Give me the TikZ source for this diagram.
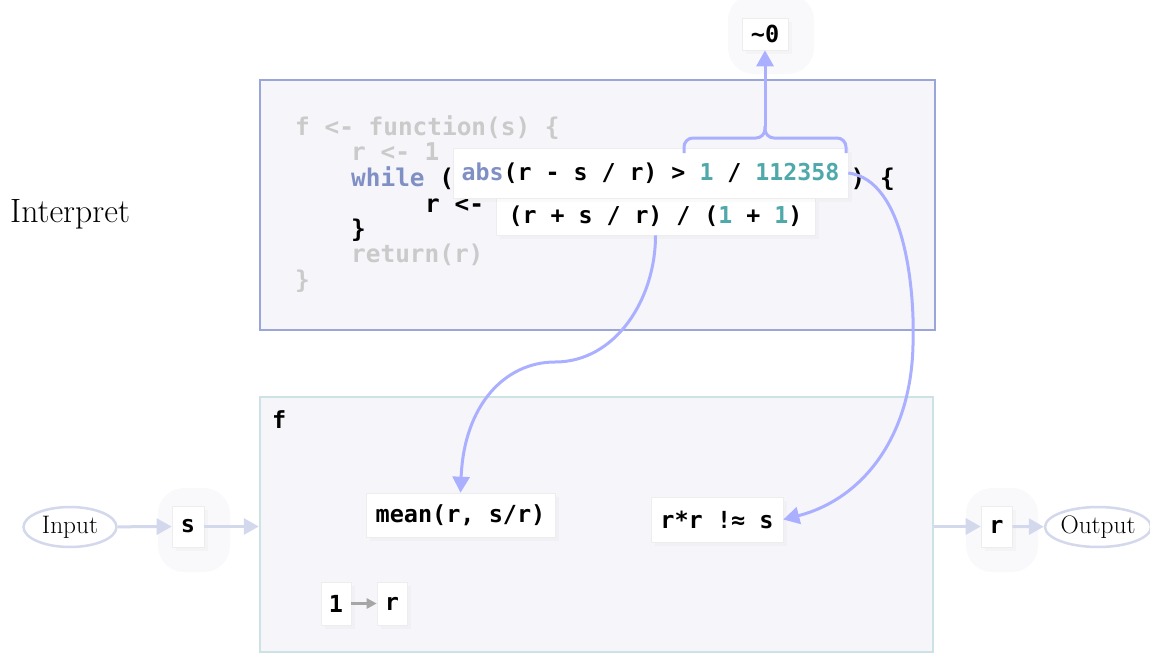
\documentclass[tikz,border=0pt]{standalone}
\usepackage{fontspec}
\newfontfamily\codefont{DejaVu Sans Mono}
\usetikzlibrary{arrows.meta,shapes.geometric,shadows}
\definecolor{boxfill}{HTML}{F5F5FA}
\definecolor{topborder}{HTML}{9AA6D8}
\definecolor{botborder}{HTML}{CDE2E5}
\definecolor{codegray}{HTML}{CACACA}
\definecolor{kw}{HTML}{8090C4}
\definecolor{num}{HTML}{4FA8AA}
\definecolor{flowc}{HTML}{AAB0FF}
\definecolor{io}{HTML}{D3D8EC}
\definecolor{halo}{HTML}{F9F9FC}
\definecolor{arrgray}{HTML}{A6A6A6}
\begin{document}
\begin{tikzpicture}[x=1pt,y=-1pt,
  codebg/.style={anchor=base west, inner sep=0pt, font=\codefont\bfseries\fontsize{24.4}{28}\selectfont},
  popup/.style={fill=white, draw=black!7, line width=0.6pt, inner sep=0pt,
    font=\codefont\bfseries\fontsize{23.25}{28}\selectfont,
    drop shadow={shadow xshift=4pt, shadow yshift=-4pt, opacity=0.04}},
  cbox/.style={popup, font=\codefont\bfseries\fontsize{23.5}{28}\selectfont},
  ioell/.style={ellipse, draw=io, line width=2.5pt, fill=white, inner sep=0pt,
    font=\fontsize{25.3}{30}\selectfont},
  ioarrow/.style={draw=io, line width=3pt, -{Triangle[length=15pt,width=16pt]}},
  grayarrow/.style={draw=arrgray, line width=2.5pt, -{Triangle[length=10pt,width=10pt]}},
  flow/.style={draw=flowc, line width=3pt, -{Triangle[length=16pt,width=17pt]}},
  bracepath/.style={draw=flowc, line width=3pt, rounded corners=9pt},
  frame/.style={inner sep=0pt, fill=boxfill}
]
\useasboundingbox (0,0) rectangle (1150,653);

% halos
\fill[halo, rounded corners=26pt] (158,488) rectangle (230,572);
\fill[halo, rounded corners=26pt] (966,488) rectangle (1038,572);
\fill[halo, rounded corners=26pt] (728,-6) rectangle (814,74);

% frames
\node[frame, draw=topborder, line width=2.2pt, minimum width=675pt, minimum height=250pt] (code) at (597.5,205) {};
\node[frame, draw=botborder, line width=2.5pt, minimum width=673pt, minimum height=255pt] (fbox) at (596.5,524.5) {};

\node[anchor=west, inner sep=0pt, font=\fontsize{33.7}{40}\selectfont] (interp) at (10,214) {Interpret};

% background code (visible parts)
\node[codebg, text=codegray] (l1) at (295,135) {f <- function(s) \{};
\node[codebg, text=codegray] (l2) at (351,160) {r <- 1};
\node[codebg] (l3a) at (351,186) {\textcolor{kw}{while} (};
\node[codebg] (l3b) at (850.5,186) {) \{};
\node[codebg] (l4) at (425,212) {r <-};
\node[codebg] (l5) at (351,237) {\}};
\node[codebg, text=codegray] (l6) at (351,262) {return(r)};
\node[codebg, text=codegray] (l7) at (295,288) {\}};

% popups
\node[popup, minimum width=319pt, minimum height=37pt] (pop2) at (655.5,216.5)
  {(r + s / r) / (\textcolor{num}{1} + \textcolor{num}{1})};
\node[popup, minimum width=395pt, minimum height=50pt] (pop1) at (650.5,173)
  {\textcolor{kw}{abs}(r - s / r) > \textcolor{num}{1} / \textcolor{num}{112358}};

% result node
\node[cbox, minimum width=46pt, minimum height=32pt] (zero) at (765,34) {\char"007E 0};

% bottom contents
\node[anchor=base west, inner sep=0pt, font=\codefont\bfseries\fontsize{23.5}{28}\selectfont] (flab) at (272,428) {f};
\node[cbox, minimum width=189pt, minimum height=44pt] (mean) at (460.5,515) {mean(r, s/r)};
\node[cbox, minimum width=132pt, minimum height=45pt] (rr) at (717,519.5) {r*r !≈ s};
\node[cbox, minimum width=30pt, minimum height=43pt] (one) at (336,603.5) {1};
\node[cbox, minimum width=30pt, minimum height=43pt] (rinit) at (392,603.5) {r};
\draw[grayarrow] (one) -- (rinit);

% input / output
\node[ioell, minimum width=93pt, minimum height=40pt] (inp) at (70,527) {Input};
\node[cbox, minimum width=32pt, minimum height=41pt] (s) at (188,526.5) {s};
\node[cbox, minimum width=31pt, minimum height=41pt] (rout) at (996.5,526.5) {r};
\node[ioell, minimum width=102pt, minimum height=40pt] (outp) at (1098,527) {Output};

\draw[ioarrow] (inp) -- (s);
\draw[ioarrow] (s.east) -- (s.east -| fbox.west);
\draw[ioarrow] (fbox.east |- rout.west) -- (rout.west);
\draw[ioarrow] (rout) -- (outp);

% flows
\coordinate (bt) at (765,126);
\draw[bracepath] (684,153) -- (684,138) -- (765,138) -- (bt);
\draw[bracepath] (846,153) -- (846,138) -- (765,138) -- (bt);
\draw[flow] (bt) -- (zero.south);
\draw[flow] (pop2.south) .. controls (655.5,300) and (615,362) .. (555,362)
  .. controls (505,362) and (464,405) .. (mean.north);
\draw[flow] (pop1.east) .. controls (905,180) and (915,290) .. (913,345)
  .. controls (911,440) and (860,500) .. (rr.east);
\end{tikzpicture}
\end{document}
